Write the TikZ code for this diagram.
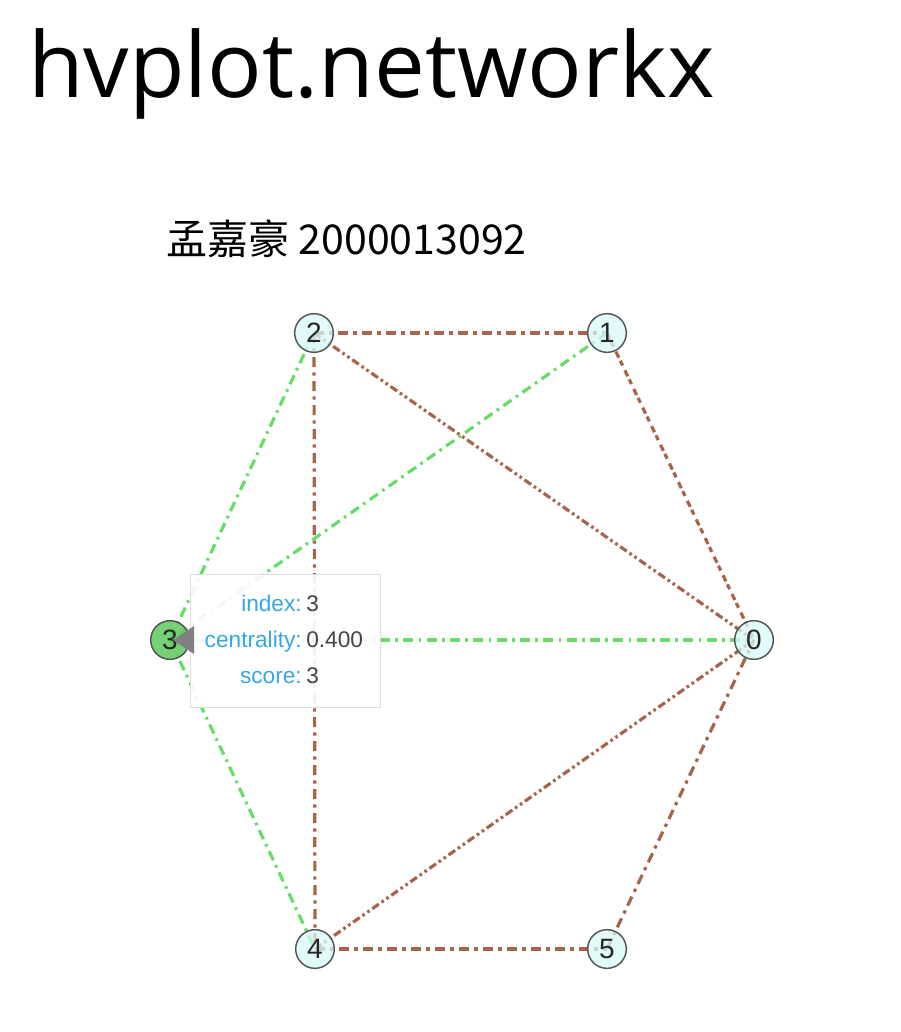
\documentclass[tikz,border=0pt]{standalone}
\usepackage{fontspec}
\setmainfont{Open Sans}
\newfontfamily\cjk{Noto Sans CJK SC}
\newfontfamily\lib{Liberation Sans}
\definecolor{brownE}{RGB}{168,100,74}
\definecolor{greenE}{RGB}{102,221,102}
\definecolor{nodeFill}{RGB}{215,250,250}
\definecolor{nodeSel}{RGB}{102,204,102}
\definecolor{nodeLine}{RGB}{85,85,85}
\definecolor{tipBlue}{RGB}{54,168,225}
\definecolor{tipVal}{RGB}{68,68,68}
\definecolor{tipBorder}{RGB}{221,221,221}
\definecolor{tipArrow}{RGB}{128,128,128}
\pgfdeclarelayer{background}
\pgfsetlayers{background,main}
\begin{document}
\begin{tikzpicture}[x=0.75pt,y=-0.75pt,
  gnode/.style={circle, draw=nodeLine, line width=1.1pt, fill=nodeFill, fill opacity=0.75, text opacity=1,
    minimum size=29pt, inner sep=0pt, font=\lib\fontsize{21}{21}\selectfont, text=black!85},
  gedge/.style={greenE, line width=2.4pt, dash pattern=on 7.5pt off 4pt on 2pt off 4pt},
  bdash/.style={brownE, line width=2.4pt, dash pattern=on 7.5pt off 4pt on 2.5pt off 4pt},
  bddot/.style={brownE, line width=2.4pt, dash pattern=on 6pt off 2.5pt on 2pt off 2.5pt on 2pt off 2.5pt},
  bpair/.style={brownE, line width=2.4pt, dash pattern=on 5pt off 2.5pt on 4pt off 4pt},
  tiplab/.style={anchor=base east, inner sep=0pt, text=tipBlue, font=\lib\fontsize{17}{17}\selectfont},
  tipval/.style={anchor=base west, inner sep=0pt, text=tipVal, font=\lib\fontsize{17}{17}\selectfont}]
\useasboundingbox (0,0) rectangle (900,1032);

% titles
\node[anchor=base west, inner sep=0pt, font=\fontsize{68}{80}\selectfont] (title) at (28,97) {hvplot.networkx};
\node[anchor=base west, inner sep=0pt, font=\cjk\fontsize{30.8}{36}\selectfont] (sub) at (166,254) {孟嘉豪 2000013092};

% nodes
\node[gnode] (n2) at (314,333) {2};
\node[gnode] (n1) at (607,333) {1};
\node[gnode] (n0) at (754,640) {0};
\node[gnode, fill=nodeSel, fill opacity=0.9] (n3) at (170,640) {3};
\node[gnode] (n4) at (315,949) {4};
\node[gnode] (n5) at (607,949) {5};

% edges
\begin{pgfonlayer}{background}
\draw[bdash] (n2.center) -- (n1.center);
\draw[bddot] (n2.center) -- (n0.center);
\draw[bdash] (n2.center) -- (n4.center);
\draw[gedge] (n2.center) -- (n3.center);
\draw[gedge] (n1.center) -- (n3.center);
\draw[bpair] (n1.center) -- (n0.center);
\draw[gedge] (n3.center) -- (n0.center);
\draw[gedge] (n3.center) -- (n4.center);
\draw[bddot] (n4.center) -- (n0.center);
\draw[bdash] (n4.center) -- (n5.center);
\draw[bdash] (n5.center) -- (n0.center);
\end{pgfonlayer}

% tooltip
\node[draw=tipBorder, line width=0.9pt, fill=white, fill opacity=0.9, anchor=north west,
  minimum width=142.5pt, minimum height=99.75pt, inner sep=0pt] (tip) at (190,574) {};
\fill[tipArrow] (173,640) -- (194,626) -- (194,654) -- cycle;
\node[tiplab] (l1) at (302,611) {index:};
\node[tipval] (v1) at (306,611) {3};
\node[tiplab] (l2) at (302,647) {centrality:};
\node[tipval] (v2) at (306,647) {0.400};
\node[tiplab] (l3) at (302,683) {score:};
\node[tipval] (v3) at (306,683) {3};
\end{tikzpicture}
\end{document}
